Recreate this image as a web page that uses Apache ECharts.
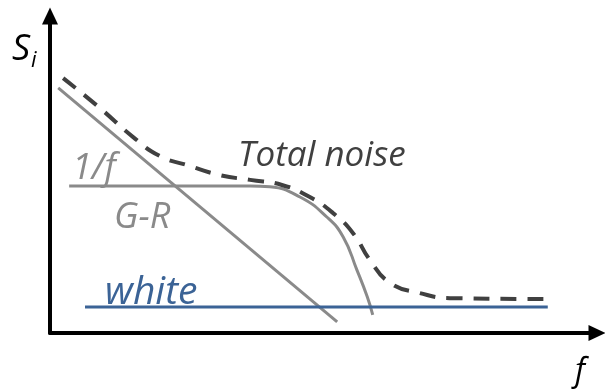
<!DOCTYPE html>
<html>
<head>
<meta charset="utf-8">
<script src="https://cdn.jsdelivr.net/npm/echarts@6.0.0/dist/echarts.min.js"></script>
<style>
  html, body { margin: 0; padding: 0; background: #fff; }
  #chart { width: 605px; height: 391px; }
</style>
</head>
<body>
<div id="chart"></div>
<script>
// schematic noise spectrum, arbitrary units (f: 0..100, S: 0..100)
const oneOverF = [[1.5, 77.3], [52.5, 3.5]]
const genRec = [
  [3.5, 46.4], [36.6, 46.4], [40.2, 46.1], [45.7, 42.9], [50.6, 36.6],
  [53.6, 30.3], [56.1, 19.9], [58.0, 11.4], [59.0, 5.7],
]
const whiteNoise = [[6.4, 8.2], [91.0, 8.2]]
const totalNoise = [
  [2.4, 80.4], [9.1, 71.0], [15.2, 61.8], [20.1, 55.8], [25.0, 53.0],
  [31.1, 49.8], [36.6, 48.3], [42.4, 46.7], [47.5, 42.9], [51.7, 37.9],
  [55.4, 31.5], [58.5, 23.0], [62.2, 15.8], [67.6, 12.6], [73.1, 11.0],
  [91.0, 10.7],
]

const GRAY = '#8a8a8a'
const DARK = '#404040'
const BLUE = '#3b6396'
const FONT = '"Open Sans", "Noto Sans", sans-serif'

const chart = echarts.init(document.getElementById('chart'))

function axisStyle() {
  return {
    type: 'value',
    min: 0,
    max: 100,
    axisLine: {
      show: true,
      symbol: ['none', 'triangle'],
      symbolSize: [16, 17],
      lineStyle: { color: '#000', width: 4 },
    },
    axisTick: { show: false },
    axisLabel: { show: false },
    splitLine: { show: false },
  }
}

function label(text, x, y, size, color, sx) {
  return {
    type: 'text',
    x: x,
    y: y,
    scaleX: sx || 1,
    style: {
      text: text,
      fill: color,
      font: 'italic ' + size + 'px ' + FONT,
    },
  }
}

const option = {
  animation: false,
  grid: { left: 50, right: 8, top: 16, bottom: 58 },
  xAxis: axisStyle(),
  yAxis: axisStyle(),
  series: [
    {
      name: '1/f',
      type: 'line',
      data: oneOverF,
      showSymbol: false,
      lineStyle: { color: GRAY, width: 3 },
    },
    {
      name: 'G-R',
      type: 'line',
      data: genRec,
      smooth: 0.5,
      showSymbol: false,
      lineStyle: { color: GRAY, width: 3 },
    },
    {
      name: 'white',
      type: 'line',
      data: whiteNoise,
      showSymbol: false,
      lineStyle: { color: BLUE, width: 3 },
    },
    {
      name: 'Total noise',
      type: 'line',
      data: totalNoise,
      smooth: 0.5,
      showSymbol: false,
      lineStyle: { color: DARK, width: 4, type: [16, 11] },
    },
  ],
  graphic: [
    label('Total noise', 238, 139, 35, DARK),
    label('1/f', 72, 151, 36, GRAY),
    label('G-R', 114, 200, 36, GRAY),
    label('white', 105, 273, 39, BLUE),
    label('S', 12, 32, 36, '#000'),
    label('i', 31, 50, 22, '#000'),
    label('f', 575, 356, 32, '#000'),
  ],
}

chart.setOption(option)
</script>
</body>
</html>
